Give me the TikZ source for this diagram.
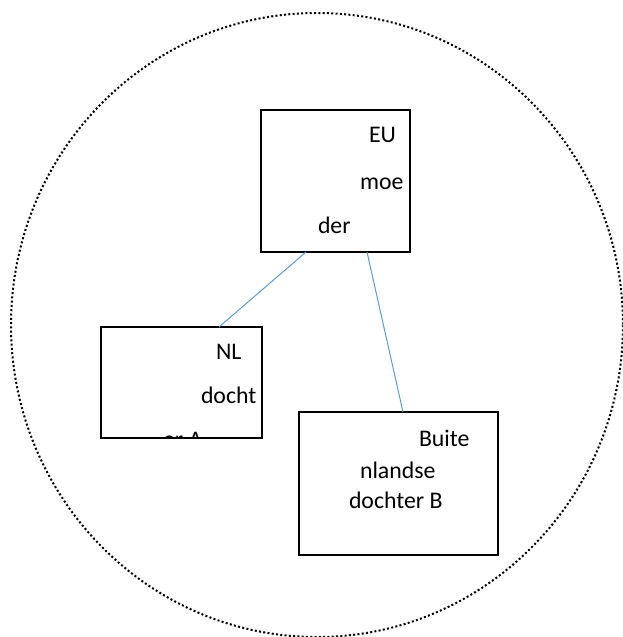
\documentclass[tikz,border=0pt]{standalone}
\usepackage{fontspec}
\setmainfont{Carlito}
\begin{document}
\begin{tikzpicture}[x=1pt,y=-1pt,
  box/.style={draw=black,line width=1.3pt,fill=none,inner sep=0pt,outer sep=0pt,anchor=north west},
  lbl/.style={inner sep=0pt,outer sep=0pt,anchor=base west,font=\fontsize{23.8}{28}\selectfont},
  link/.style={draw={rgb,255:red,91;green,155;blue,213},line width=1pt},
  ring/.style={draw=black,line width=2pt,dash pattern=on 2pt off 2.3pt}]
\useasboundingbox (0,0) rectangle (622,637);
\draw[ring] (317,325) ellipse [x radius=306, y radius=312];
% boxes
\node[box,minimum width=149pt,minimum height=142pt] (eu) at (261,110) {};
\begin{scope}
\clip (101,327) rectangle (262,438);
\node[lbl] (nl3) at (163,447) {er A};
\end{scope}
\node[box,minimum width=161pt,minimum height=111pt] (nl) at (101,327) {};
\node[box,minimum width=199pt,minimum height=143pt] (bb) at (299,412) {};
% texts
\node[lbl] (eu1) at (369,142) {EU};
\node[lbl] (eu2) at (360,189) {moe};
\node[lbl] (eu3) at (318,233) {der};
\node[lbl] (nl1) at (216,359) {NL};
\node[lbl] (nl2) at (201,403) {docht};
\node[lbl] (bb1) at (419,446) {Buite};
\node[lbl] (bb2) at (360,478) {nlandse};
\node[lbl] (bb3) at (349,508) {dochter B};
% connectors
\draw[link] ([xshift=45pt]eu.south west) -- ([xshift=118pt]nl.north west);
\draw[link] ([xshift=106pt]eu.south west) -- ([xshift=104pt]bb.north west);
\end{tikzpicture}
\end{document}
